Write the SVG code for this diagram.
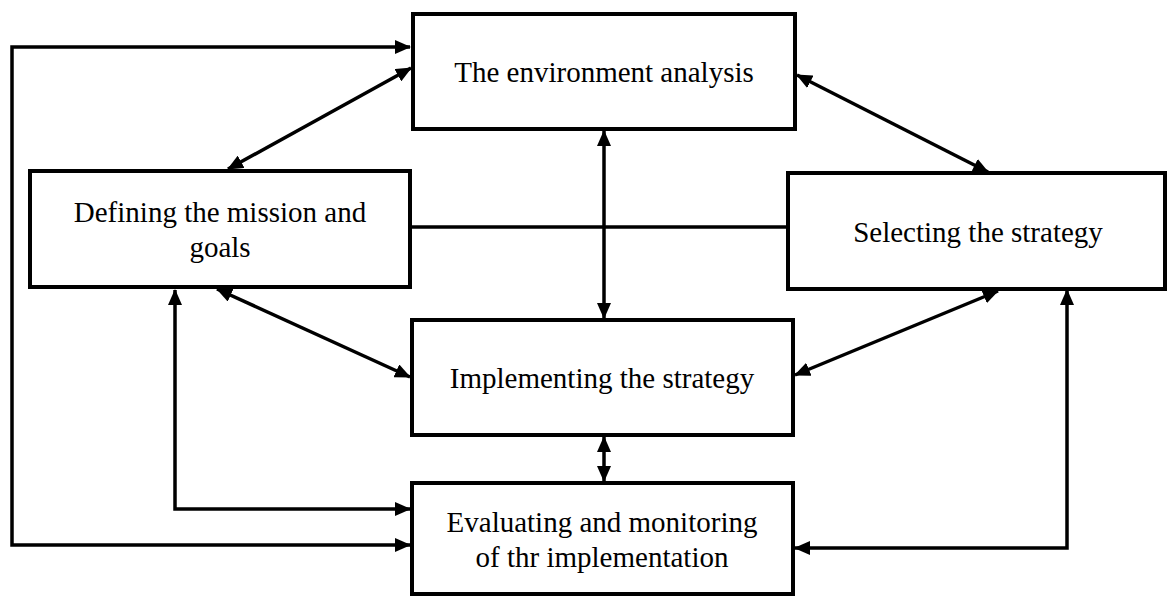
<svg xmlns="http://www.w3.org/2000/svg" width="1167" height="596" viewBox="0 0 1167 596">
<style>
.box{fill:#fff;stroke:#000;stroke-width:4}
.t{font-family:"Liberation Serif","Times New Roman",serif;font-size:29px;fill:#000;text-anchor:middle}
.c{fill:none;stroke:#000;stroke-width:3.5}
.b{marker-start:url(#ah);marker-end:url(#ah)}
</style>
<defs>
<marker id="ah" markerUnits="userSpaceOnUse" markerWidth="16" markerHeight="14" refX="15" refY="7" orient="auto-start-reverse" viewBox="0 0 16 14">
<path d="M0,0 L16,7 L0,14 z" fill="#000"/>
</marker>
</defs>
<g id="connectors">
<polyline class="c b" points="410,47 12,47 12,545 410,545"/>
<line class="c b" x1="411" y1="68" x2="228" y2="169"/>
<line class="c b" x1="797" y1="75" x2="988" y2="172"/>
<line class="c b" x1="604" y1="131" x2="604" y2="318"/>
<line class="c" x1="411" y1="227" x2="787" y2="227"/>
<line class="c b" x1="217" y1="289" x2="410" y2="377"/>
<line class="c b" x1="998" y1="291" x2="795" y2="375"/>
<line class="c b" x1="604" y1="437" x2="604" y2="481"/>
<polyline class="c b" points="175,290 175,509 410,509"/>
<polyline class="c b" points="1067,290 1067,548 795,548"/>
</g>
<g id="env">
<rect class="box" x="413" y="14" width="382" height="115"/>
<text class="t" x="604" y="82">The environment analysis</text>
</g>
<g id="defining">
<rect class="box" x="30" y="171" width="380" height="116"/>
<text class="t" x="220" y="222">Defining the mission and</text>
<text class="t" x="220" y="257">goals</text>
</g>
<g id="selecting">
<rect class="box" x="788" y="173" width="377" height="116"/>
<text class="t" x="978" y="242">Selecting the strategy</text>
</g>
<g id="implementing">
<rect class="box" x="412" y="320" width="381" height="115"/>
<text class="t" x="602" y="388">Implementing the strategy</text>
</g>
<g id="evaluating">
<rect class="box" x="412" y="483" width="381" height="111"/>
<text class="t" x="602" y="532">Evaluating and monitoring</text>
<text class="t" x="602" y="567">of thr implementation</text>
</g>
</svg>
